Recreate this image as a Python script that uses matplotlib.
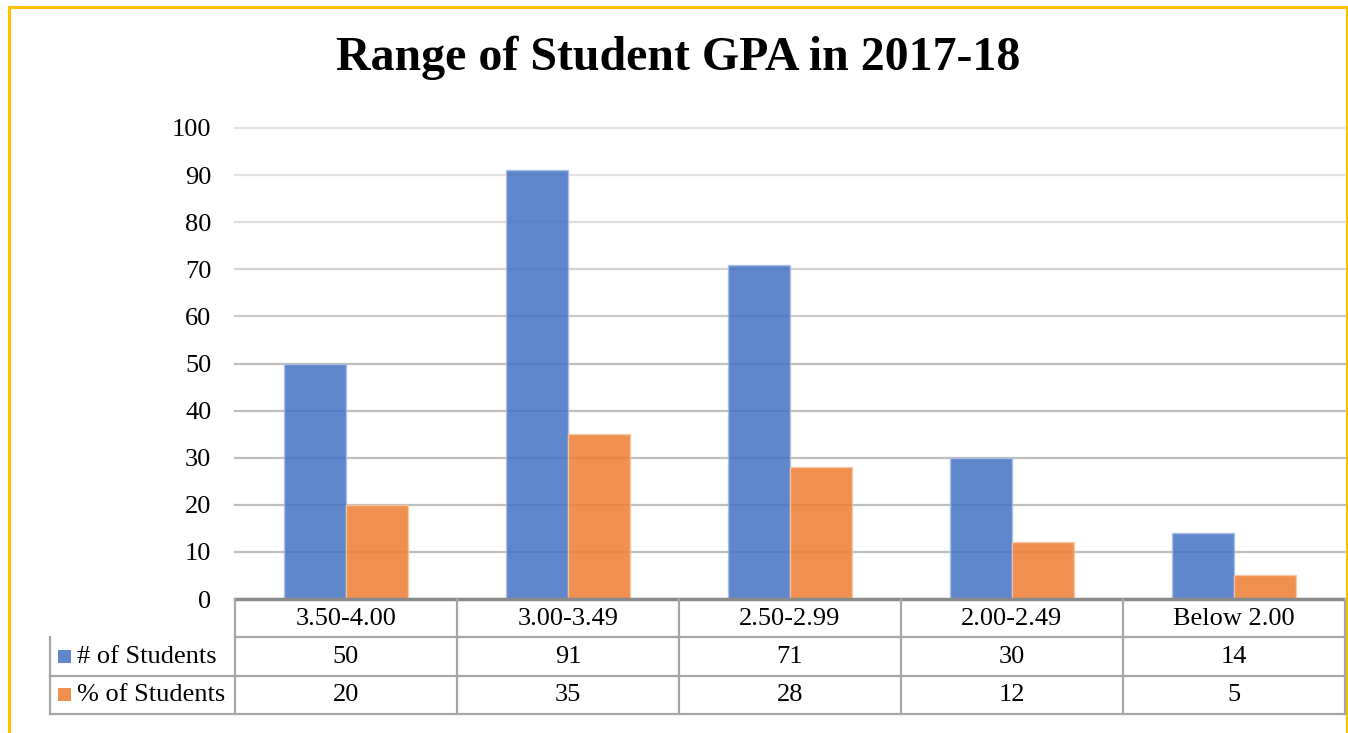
import matplotlib
matplotlib.use("Agg")
import matplotlib.pyplot as plt
from matplotlib.patches import Rectangle
from matplotlib.transforms import blended_transform_factory
import numpy as np

categories = ["3.50-4.00", "3.00-3.49", "2.50-2.99", "2.00-2.49", "Below 2.00"]
num_students = [50, 91, 71, 30, 14]
pct_students = [20, 35, 28, 12, 5]
series_names = ["# of Students", "% of Students"]
yticks = [0, 10, 20, 30, 40, 50, 60, 70, 80, 90, 100]
title = "Range of Student GPA in 2017-18"

W, H = 1348, 733
plt.rcParams['font.family'] = ['Liberation Serif', 'DejaVu Serif']
fig = plt.figure(figsize=(W / 100, H / 100), dpi=100)

def fx(px):
    return px / W

def fy(py):
    return 1 - py / H

x_left, x_right = 235, 1345
y_top, y_bot = 128, 599
ax = fig.add_axes([fx(x_left), fy(y_bot), fx(x_right - x_left), (y_bot - y_top) / H])

colors = ["#4472C4", "#ED7D31"]
edge = ["#A9C0E8", "#F8C7A6"]
x = np.arange(len(categories))
bw = 0.28
ax.bar(x - bw / 2, num_students, bw, color=colors[0], alpha=0.85, edgecolor=edge[0], linewidth=1, zorder=3)
ax.bar(x + bw / 2, pct_students, bw, color=colors[1], alpha=0.85, edgecolor=edge[1], linewidth=1, zorder=3)

ax.set_xlim(-0.5, len(categories) - 0.5)
ax.set_ylim(0, 100)
ax.set_yticks(yticks)
ax.set_xticks([])
grid_colors = {100: "#e2e2e2", 90: "#e2e2e2", 80: "#dcdcdc", 70: "#d3d3d3", 60: "#cbcbcb"}
for t in yticks[1:]:
    ax.axhline(t, color=grid_colors.get(t, "#bfbfbf"), linewidth=1.6, zorder=0, clip_on=False)
for s in ax.spines.values():
    s.set_visible(False)
ax.tick_params(axis='y', length=0, pad=17, labelsize=19)
ax.axhline(0, color="#8a8a8a", linewidth=2.5, zorder=4, clip_on=False)

fig.text(0.5 * (fx(336) + fx(1020)), fy(58), title, ha='center', va='center',
         fontsize=34.5, fontweight='bold')

# data table
tr = blended_transform_factory(ax.transData, fig.transFigure)
lc = "#a6a6a6"
lw = 1.6
row_y = [600, 637, 676, 714]
fig.add_artist(plt.Line2D([-0.5, len(categories) - 0.5], [fy(row_y[1])] * 2, transform=tr, color=lc, lw=lw))
for ry in row_y[2:]:
    fig.add_artist(plt.Line2D([fx(50), fx(x_right)], [fy(ry)] * 2, transform=fig.transFigure, color=lc, lw=lw))
for i in range(len(categories) + 1):
    fig.add_artist(plt.Line2D([i - 0.5, i - 0.5], [fy(599), fy(row_y[-1])], transform=tr, color=lc, lw=lw))
fig.add_artist(plt.Line2D([fx(50), fx(50)], [fy(row_y[1]), fy(row_y[-1])], transform=fig.transFigure, color=lc, lw=lw))

for i, c in enumerate(categories):
    fig.text(i, fy(619), c, transform=tr, ha='center', va='center', fontsize=19)
    fig.text(i, fy(657), str(num_students[i]), transform=tr, ha='center', va='center', fontsize=19)
    fig.text(i, fy(695), str(pct_students[i]), transform=tr, ha='center', va='center', fontsize=19)

for k, (name, ry) in enumerate(zip(series_names, [657, 695])):
    fig.add_artist(Rectangle((fx(58), fy(ry + 6)), fx(13), 13 / H, transform=fig.transFigure,
                             facecolor=colors[k], alpha=0.85, edgecolor='none'))
    fig.text(fx(77), fy(ry), name, ha='left', va='center', fontsize=19)

# yellow border
fig.add_artist(Rectangle((fx(8.5), fy(745)), fx(1346.5 - 8.5), (745 - 7.0) / H,
                         transform=fig.transFigure, fill=False, edgecolor="#FFC000", lw=2.2))

fig.savefig("out.png", dpi=100, facecolor='white')
